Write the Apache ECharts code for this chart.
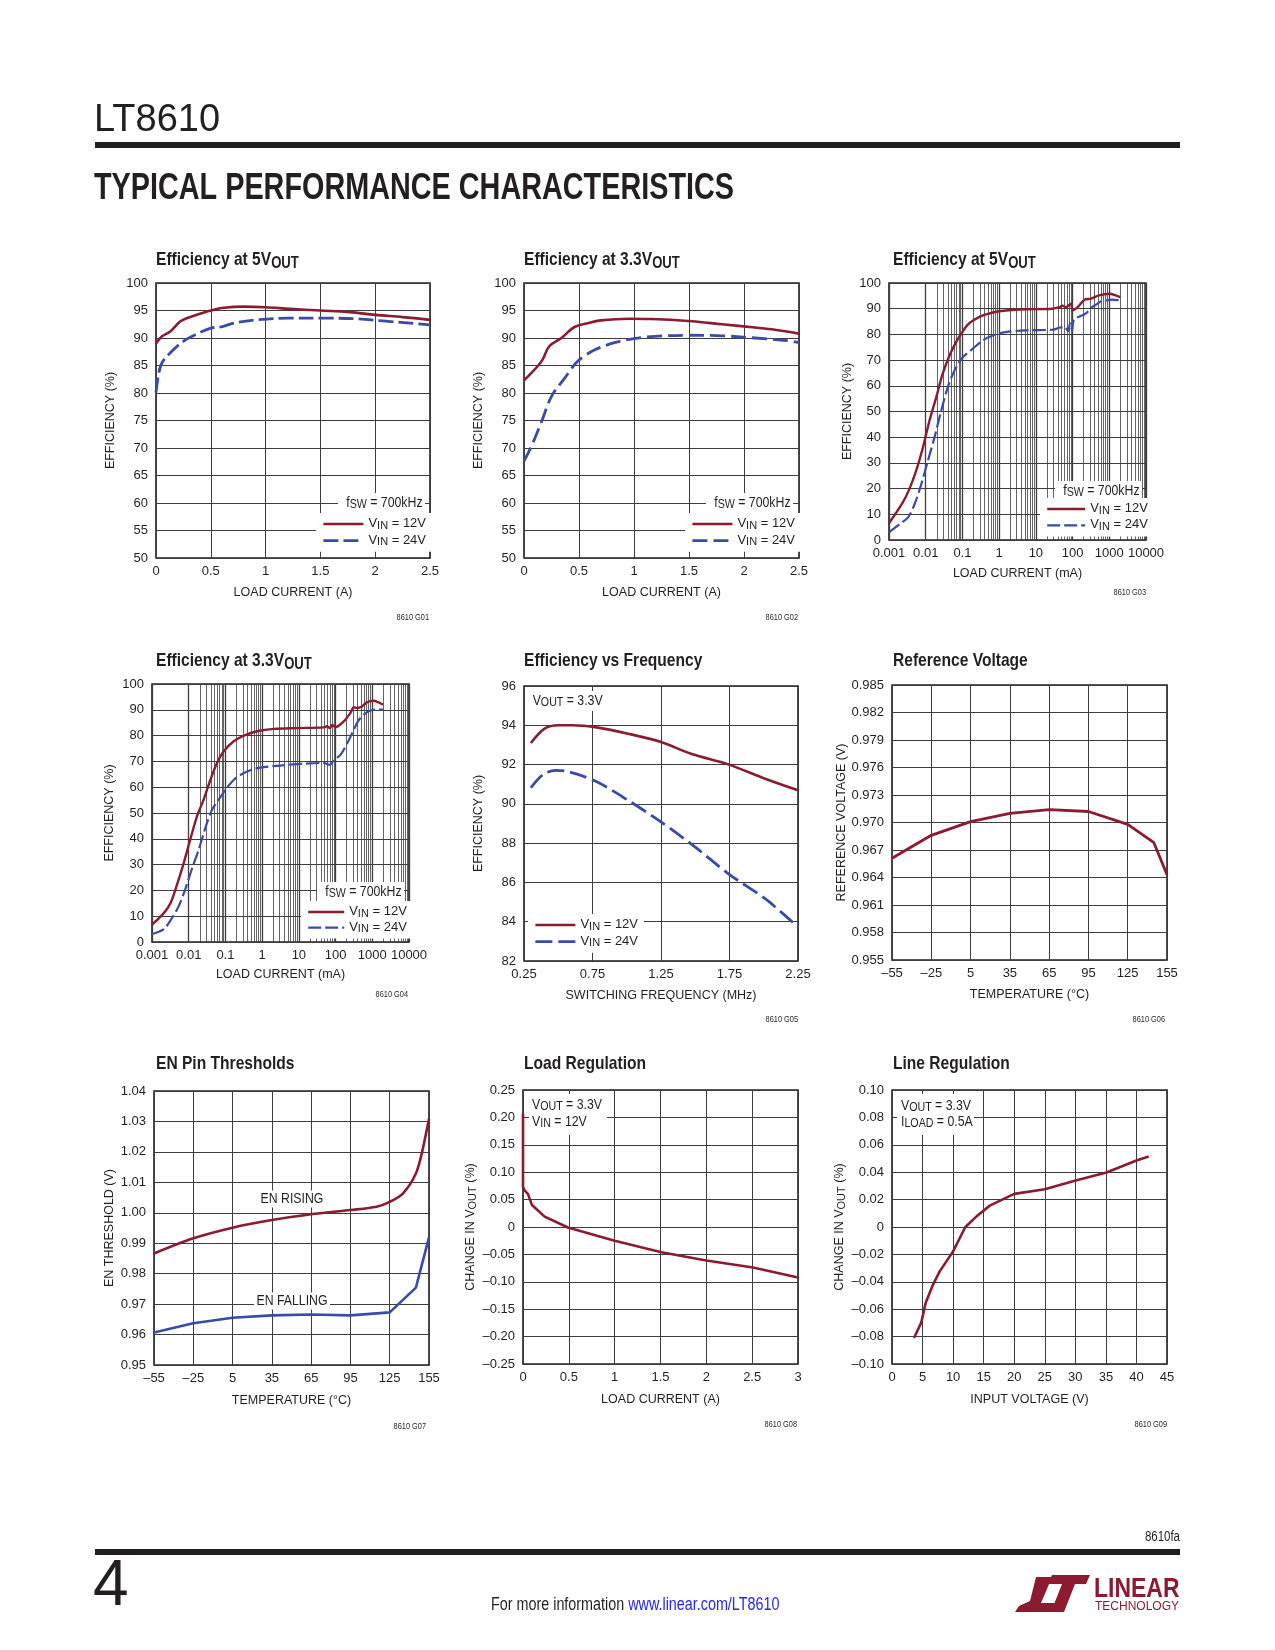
<!DOCTYPE html>
<html><head><meta charset="utf-8">
<script src="https://cdn.jsdelivr.net/npm/echarts@6/dist/echarts.min.js"></script>
<style>html,body{margin:0;padding:0;background:#fff}#c{width:1275px;height:1650px}</style>
</head><body><div id="c"></div>
<script>
// ---------------- DATA ----------------
// G01 Efficiency at 5Vout (linear load, A)
const p1_vin12_load = [0, 0.055, 0.13, 0.22, 0.28, 0.4, 0.5, 0.62, 0.8, 1.0, 1.22, 1.5, 1.77, 2.0, 2.25, 2.5];
const p1_vin12_eff  = [89.0, 90.3, 91.2, 93.0, 93.6, 94.4, 95.0, 95.5, 95.7, 95.6, 95.3, 95.0, 94.7, 94.2, 93.8, 93.3];
const p1_vin24_load = [0, 0.025, 0.055, 0.13, 0.25, 0.37, 0.5, 0.59, 0.71, 0.92, 1.22, 1.53, 1.83, 2.07, 2.32, 2.5];
const p1_vin24_eff  = [80.1, 83.6, 85.5, 87.3, 89.4, 90.7, 91.8, 92.0, 92.7, 93.3, 93.6, 93.6, 93.5, 93.1, 92.7, 92.4];
// G02 Efficiency at 3.3Vout
const p2_vin12_load = [0, 0.05, 0.13, 0.17, 0.23, 0.34, 0.46, 0.58, 0.7, 0.95, 1.16, 1.49, 1.8, 2.1, 2.28, 2.5];
const p2_vin12_eff  = [82.3, 83.3, 85.0, 86.1, 88.5, 90.0, 92.0, 92.7, 93.2, 93.5, 93.45, 93.1, 92.5, 91.9, 91.5, 90.8];
const p2_vin24_load = [0, 0.067, 0.16, 0.25, 0.37, 0.49, 0.64, 0.83, 1.0, 1.19, 1.49, 1.8, 2.1, 2.4, 2.5];
const p2_vin24_eff  = [67.6, 70.3, 74.8, 79.4, 82.7, 85.8, 87.8, 89.2, 89.9, 90.3, 90.5, 90.4, 90.0, 89.5, 89.2];
// G03 Efficiency at 5Vout (log load, mA)
const p3_vin12_load = [0.001, 0.0024, 0.0036, 0.0055, 0.0084, 0.0127, 0.0194, 0.029, 0.0445, 0.067, 0.1, 0.14, 0.19, 0.3, 0.44, 1.0, 3.5, 28, 44, 53, 66, 91, 100, 138, 212, 315, 520, 1000, 1500, 2000];
const p3_vin12_eff  = [6.5, 14.7, 19.9, 27, 36, 46.5, 55.6, 64.7, 71.8, 77.0, 81.0, 83.8, 85.3, 86.9, 87.8, 89.0, 89.7, 90.0, 90.6, 91.2, 90.6, 91.9, 89.4, 90.6, 93.5, 93.9, 95.2, 95.8, 95.2, 94.5];
const p3_vin24_load = [0.001, 0.00195, 0.0033, 0.005, 0.0076, 0.0115, 0.0174, 0.0265, 0.04, 0.061, 0.1, 0.19, 0.36, 0.67, 1.5, 5.5, 28, 44, 60, 76, 85, 97, 110, 226, 340, 470, 590, 800, 1200, 2000];
const p3_vin24_eff  = [3.0, 6.2, 8.8, 14, 21.8, 30.9, 40, 50.4, 59.5, 66, 70.9, 74.4, 77.7, 79.6, 80.9, 81.6, 81.8, 82.6, 82.9, 81.3, 84.4, 81.6, 85.7, 88.1, 90.6, 91.9, 92.9, 93.2, 93.5, 93.2];
// G04 Efficiency at 3.3Vout (log load, mA)
const p4_vin12_load = [0.001, 0.0021, 0.0032, 0.0048, 0.0073, 0.011, 0.0168, 0.0255, 0.039, 0.059, 0.09, 0.168, 0.32, 0.73, 2.1, 8.9, 47, 58, 70, 81, 100, 167, 254, 313, 385, 525, 715, 1080, 1480, 1950];
const p4_vin12_eff  = [6.7, 11.2, 15.1, 22.2, 30.6, 39.7, 48.7, 55.2, 62.9, 69.4, 73.9, 77.8, 80.0, 81.7, 82.6, 82.9, 83.2, 83.6, 82.9, 84.1, 83.3, 85.5, 88.8, 91.0, 90.7, 91.3, 92.9, 93.5, 92.9, 92.0];
const p4_vin24_load = [0.001, 0.0021, 0.0035, 0.0053, 0.008, 0.012, 0.0187, 0.0284, 0.0433, 0.066, 0.1, 0.17, 0.32, 0.73, 2.5, 13, 47, 70, 90, 138, 233, 313, 470, 790, 1200, 1950];
const p4_vin24_eff  = [3.1, 5.0, 9.3, 13.8, 20.3, 28.0, 35.8, 44.2, 51.3, 55.2, 59.0, 62.9, 65.5, 67.4, 68.3, 69.1, 69.4, 68.7, 70.4, 72.6, 78.4, 82.3, 86.8, 89.4, 90.1, 90.1];
// G05 Efficiency vs frequency (MHz)
const p5_vin12_freq = [0.30, 0.40, 0.50, 0.60, 0.79, 1.01, 1.25, 1.47, 1.74, 2.01, 2.25];
const p5_vin12_eff  = [93.1, 93.83, 94.0, 94.0, 93.88, 93.57, 93.15, 92.55, 92.01, 91.28, 90.69];
const p5_vin24_freq = [0.30, 0.39, 0.48, 0.55, 0.77, 1.01, 1.25, 1.50, 1.74, 2.01, 2.25];
const p5_vin24_eff  = [90.82, 91.5, 91.7, 91.67, 91.16, 90.18, 89.08, 87.8, 86.45, 85.17, 83.73];
// G06 Reference voltage vs temperature
const p6_temp = [-55, -25, 5, 35, 65, 95, 125, 145, 155];
const p6_vref = [0.9661, 0.9686, 0.9701, 0.9710, 0.9714, 0.9712, 0.9698, 0.9678, 0.9643];
// G07 EN pin thresholds
const p7_rise_temp = [-55, -25, 5, 35, 65, 95, 115, 125, 135, 145, 150, 155];
const p7_rise_v    = [0.9866, 0.9916, 0.9951, 0.9976, 0.9995, 1.0009, 1.0020, 1.0036, 1.0063, 1.0129, 1.0205, 1.0309];
const p7_fall_temp = [-55, -25, 5, 35, 65, 95, 125, 145, 155];
const p7_fall_v    = [0.9607, 0.9637, 0.9655, 0.9663, 0.9666, 0.9663, 0.9673, 0.9754, 0.9919];
// G08 Load regulation
const p8_load = [0, 0, 0.011, 0.055, 0.098, 0.236, 0.49, 1.0, 1.51, 2.0, 2.51, 3.0];
const p8_dv   = [0.207, 0.074, 0.068, 0.060, 0.040, 0.019, -0.001, -0.025, -0.046, -0.061, -0.074, -0.092];
// G09 Line regulation
const p9_vin = [3.6, 4.8, 5.5, 6.7, 7.8, 10.0, 12.0, 13.8, 16.0, 18.2, 20.0, 25.0, 29.9, 35.1, 40.0, 42.0];
const p9_dv  = [-0.081, -0.0696, -0.0555, -0.0422, -0.0324, -0.0178, 0.0, 0.0076, 0.0156, 0.0203, 0.0242, 0.0276, 0.0337, 0.0398, 0.0485, 0.0514];
// log-axis minor grid multipliers
const logMinorMult = [2, 3, 4, 5, 6, 7, 8, 9];
const logDecades = [0.001, 0.01, 0.1, 1, 10, 100, 1000];

// ---------------- STYLE ----------------
const RED = '#8C1B30', BLUE = '#3A4AAA', INK = '#231f20', GRIDC = '#3d3d3d';
const SANS = '"Liberation Sans",Arial,Helvetica,sans-serif';
const NX = 0.82; // horizontal compression for graphic text (condensed look)

const AX_RICH = {
  a: {fontFamily: SANS, fontSize: 12.5, color: INK, lineHeight: 15, verticalAlign: 'top'},
  s: {fontFamily: SANS, fontSize: 11, color: INK, lineHeight: 7, verticalAlign: 'bottom'}
};
const LEG_RICH = {
  a: {fontFamily: SANS, fontSize: 13, color: INK, lineHeight: 14, verticalAlign: 'top'},
  s: {fontFamily: SANS, fontSize: 11, color: INK, lineHeight: 6, verticalAlign: 'bottom'}
};
const G_RICH = {
  a: {fontFamily: SANS, fontSize: 15, fill: INK, lineHeight: 16, verticalAlign: 'top'},
  s: {fontFamily: SANS, fontSize: 13, fill: INK, lineHeight: 8, verticalAlign: 'bottom'}
};
const T_RICH = {
  t: {fontFamily: SANS, fontSize: 19, fontWeight: 'bold', fill: INK, lineHeight: 22, verticalAlign: 'top'},
  s: {fontFamily: SANS, fontSize: 16, fontWeight: 'bold', fill: INK, lineHeight: 13, verticalAlign: 'bottom'}
};

const neg = v => (v < 0 ? '\u2013' : '');
const fmtTemp = v => neg(v) + Math.abs(v);
const fmt2 = v => Math.abs(v) < 1e-9 ? '0' : neg(v) + Math.abs(v).toFixed(2);
const fmt3 = v => v.toFixed(3);
const fmtLog = v => String(+Number(v).toPrecision(4));

const panels = [
  {grid:[156,283,274,275], x:{type:'value',min:0,max:2.5,interval:0.5}, y:{min:50,max:100,interval:5},
   xName:'LOAD CURRENT (A)', xGap:28, yName:'EFFICIENCY (%)', yGap:39,
   title:'{t|Efficiency at 5V}{s|OUT}', tpos:[156,261], code:'8610 G01', cpos:[429,618]},
  {grid:[524,283,275,275], x:{type:'value',min:0,max:2.5,interval:0.5}, y:{min:50,max:100,interval:5},
   xName:'LOAD CURRENT (A)', xGap:28, yName:'EFFICIENCY (%)', yGap:39,
   title:'{t|Efficiency at 3.3V}{s|OUT}', tpos:[524,261], code:'8610 G02', cpos:[798,618]},
  {grid:[889,283,257,257], x:{type:'log',min:0.001,max:10000,logBase:10}, y:{min:0,max:100,interval:10}, log:true,
   xName:'LOAD CURRENT (mA)', xGap:27, yName:'EFFICIENCY (%)', yGap:35,
   title:'{t|Efficiency at 5V}{s|OUT}', tpos:[893,261], code:'8610 G03', cpos:[1146,593]},
  {grid:[152,684,257,258], x:{type:'log',min:0.001,max:10000,logBase:10}, y:{min:0,max:100,interval:10}, log:true,
   xName:'LOAD CURRENT (mA)', xGap:26, yName:'EFFICIENCY (%)', yGap:36,
   title:'{t|Efficiency at 3.3V}{s|OUT}', tpos:[156,662], code:'8610 G04', cpos:[408,995]},
  {grid:[524,686,274,275], x:{type:'value',min:0.25,max:2.25,interval:0.5}, y:{min:82,max:96,interval:2},
   xName:'SWITCHING FREQUENCY (MHz)', xGap:28, yName:'EFFICIENCY (%)', yGap:39, xfmt:v=>v.toFixed(2),
   title:'{t|Efficiency vs Frequency}', tpos:[524,662], code:'8610 G05', cpos:[798,1020]},
  {grid:[892,685,275,275], x:{type:'value',min:-55,max:155,interval:30}, y:{min:0.955,max:0.985,interval:0.003},
   xName:'TEMPERATURE (°C)', xGap:28, yName:'REFERENCE VOLTAGE (V)', yGap:43, xfmt:fmtTemp, yfmt:fmt3,
   title:'{t|Reference Voltage}', tpos:[893,662], code:'8610 G06', cpos:[1165,1020]},
  {grid:[154,1091,275,274], x:{type:'value',min:-55,max:155,interval:30}, y:{min:0.95,max:1.04,interval:0.01},
   xName:'TEMPERATURE (°C)', xGap:29, yName:'EN THRESHOLD (V)', yGap:38, xfmt:fmtTemp, yfmt:v=>v.toFixed(2),
   title:'{t|EN Pin Thresholds}', tpos:[156,1065], code:'8610 G07', cpos:[426,1427]},
  {grid:[523,1090,275,274], x:{type:'value',min:0,max:3,interval:0.5}, y:{min:-0.25,max:0.25,interval:0.05},
   xName:'LOAD CURRENT (A)', xGap:29, yName:'{a|CHANGE IN V}{s|OUT}{a| (%)}', yGap:42, yfmt:fmt2,
   title:'{t|Load Regulation}', tpos:[524,1065], code:'8610 G08', cpos:[797,1425]},
  {grid:[892,1090,275,274], x:{type:'value',min:0,max:45,interval:5}, y:{min:-0.1,max:0.1,interval:0.02},
   xName:'INPUT VOLTAGE (V)', xGap:29, yName:'{a|CHANGE IN V}{s|OUT}{a| (%)}', yGap:43, yfmt:fmt2,
   title:'{t|Line Regulation}', tpos:[893,1065], code:'8610 G09', cpos:[1167,1425]}
];

const grids = [], xAxes = [], yAxes = [], series = [], graphics = [], legends = [];

panels.forEach((p, i) => {
  grids.push({left:p.grid[0], top:p.grid[1], width:p.grid[2], height:p.grid[3], show:true,
    borderColor:INK, borderWidth:1.6, backgroundColor:'transparent', containLabel:false});
  const common = {
    gridIndex:i, axisLine:{show:false}, axisTick:{show:false},
    splitLine:{show:true, lineStyle:{color:GRIDC, width:p.log ? 1.3 : 1}},
    axisLabel:{color:INK, fontFamily:SANS, fontSize:13, showMinLabel:true, showMaxLabel:true},
    nameLocation:'middle',
    nameTextStyle:{color:INK, fontFamily:SANS, fontSize:12.5, rich:AX_RICH}
  };
  xAxes.push(Object.assign({}, common, p.x, {
    name:p.xName, nameGap:p.xGap,
    axisLabel:Object.assign({}, common.axisLabel, {margin:7, formatter: p.log ? fmtLog : (p.xfmt || null)})
  }));
  yAxes.push(Object.assign({}, common, {type:'value'}, p.y, {
    name:p.yName, nameGap:p.yGap, nameRotate:90,
    splitLine:{show:true, lineStyle:{color:GRIDC, width:1}},
    axisLabel:Object.assign({}, common.axisLabel, {margin:8, formatter: p.yfmt || null})
  }));
  if (p.log) {
    const minor = [];
    logDecades.forEach(d => logMinorMult.forEach(m => minor.push({xAxis: +(m * d).toPrecision(3)})));
    series.push({type:'line', xAxisIndex:i, yAxisIndex:i, data:[], silent:true, z:1,
      markLine:{silent:true, z:1, symbol:['none','none'], animation:false, label:{show:false},
        lineStyle:{color:GRIDC, width:0.8, type:'solid'}, emphasis:{disabled:true}, data:minor}});
  }
  graphics.push({type:'text', x:p.tpos[0], y:p.tpos[1], scaleX:NX, silent:true,
    style:{text:p.title, rich:T_RICH, fill:INK, verticalAlign:'middle', align:'left'}});
  graphics.push({type:'text', x:p.cpos[0], y:p.cpos[1], scaleX:NX, silent:true,
    style:{text:p.code, fontFamily:SANS, fontSize:9, fill:INK, verticalAlign:'middle', align:'right'}});
});

function mkLine(name, gi, xs, ys, color, width, dash, smooth) {
  return {name, type:'line', xAxisIndex:gi, yAxisIndex:gi, symbol:'none', silent:true,
    smooth: smooth, data: xs.map((x, k) => [x, ys[k]]),
    lineStyle:{color, width, type: dash || 'solid', cap:'butt', join:'round'}, itemStyle:{color},
    z: color === RED ? 4 : 3, animation:false};
}
series.push(mkLine('p1_12', 0, p1_vin12_load, p1_vin12_eff, RED, 2.6, null, 0.35));
series.push(mkLine('p1_24', 0, p1_vin24_load, p1_vin24_eff, BLUE, 2.8, [15, 5], 0.35));
series.push(mkLine('p2_12', 1, p2_vin12_load, p2_vin12_eff, RED, 2.6, null, 0.35));
series.push(mkLine('p2_24', 1, p2_vin24_load, p2_vin24_eff, BLUE, 2.8, [15, 6], 0.35));
series.push(mkLine('p3_12', 2, p3_vin12_load, p3_vin12_eff, RED, 2.4, null, 0.3));
series.push(mkLine('p3_24', 2, p3_vin24_load, p3_vin24_eff, BLUE, 2.2, [13, 4], 0.3));
series.push(mkLine('p4_12', 3, p4_vin12_load, p4_vin12_eff, RED, 2.4, null, 0.3));
series.push(mkLine('p4_24', 3, p4_vin24_load, p4_vin24_eff, BLUE, 2.2, [13, 4], 0.3));
series.push(mkLine('p5_12', 4, p5_vin12_freq, p5_vin12_eff, RED, 2.6, null, 0.3));
series.push(mkLine('p5_24', 4, p5_vin24_freq, p5_vin24_eff, BLUE, 2.8, [17, 6], 0.3));
series.push(mkLine('p6_vref', 5, p6_temp, p6_vref, RED, 2.8, null, false));
series.push(mkLine('p7_rise', 6, p7_rise_temp, p7_rise_v, RED, 2.6, null, 0.3));
series.push(mkLine('p7_fall', 6, p7_fall_temp, p7_fall_v, BLUE, 2.6, null, false));
series.push(mkLine('p8_dv', 7, p8_load, p8_dv, RED, 2.6, null, false));
series.push(mkLine('p9_dv', 8, p9_vin, p9_dv, RED, 2.6, null, false));

const LEG_TEXT = {
  p1_12:'{a|V}{s|IN}{a| = 12V}', p1_24:'{a|V}{s|IN}{a| = 24V}',
  p2_12:'{a|V}{s|IN}{a| = 12V}', p2_24:'{a|V}{s|IN}{a| = 24V}',
  p3_12:'{a|V}{s|IN}{a| = 12V}', p3_24:'{a|V}{s|IN}{a| = 24V}',
  p4_12:'{a|V}{s|IN}{a| = 12V}', p4_24:'{a|V}{s|IN}{a| = 24V}',
  p5_12:'{a|V}{s|IN}{a| = 12V}', p5_24:'{a|V}{s|IN}{a| = 24V}'
};
function mkLegend(names, left, top, iw, gap) {
  return {data:names, left, top, orient:'vertical', itemWidth:iw, itemHeight:14, itemGap:gap,
    padding:[4,6,4,6], backgroundColor:'#fff', selectedMode:false,
    itemStyle:{opacity:0, borderWidth:0}, lineStyle:{width:'inherit'},
    formatter: n => LEG_TEXT[n], textStyle:{color:INK, fontFamily:SANS, fontSize:13, rich:LEG_RICH}};
}
legends.push(mkLegend(['p1_12','p1_24'], 316, 513, 40, 2.7));
legends.push(mkLegend(['p2_12','p2_24'], 685, 513, 40, 2.7));
legends.push(mkLegend(['p3_12','p3_24'], 1040, 498, 38, 2.4));
legends.push(mkLegend(['p4_12','p4_24'], 301, 901, 36, 1.6));
legends.push(mkLegend(['p5_12','p5_24'], 528, 914, 40, 2.7));

function gRich(x, y, text, align, pad) {
  return {type:'text', x, y, scaleX:NX, silent:true, z:20,
    style:{text, rich:G_RICH, fill:INK, align: align || 'left', verticalAlign:'middle',
      backgroundColor:'#fff', padding: pad || [2,4,2,4]}};
}
// fSW annotations
const FSW = '{a|f}{s|SW}{a| = 700kHz}';
graphics.push(gRich(425, 503, FSW, 'right', [2,3,2,10]));
graphics.push(gRich(793, 503, FSW, 'right', [2,3,2,10]));
graphics.push(gRich(1142, 491, FSW, 'right', [2,3,2,10]));
graphics.push(gRich(404, 892, FSW, 'right', [2,3,2,10]));
// Vout label on G05
graphics.push(gRich(531, 701, '{a|V}{s|OUT}{a| = 3.3V}', 'left', [2,2,2,2]));
// EN labels
graphics.push({type:'text', x:292, y:1199, scaleX:NX, silent:true, z:20, style:{text:'EN RISING', fontFamily:SANS, fontSize:15, fill:INK,
  align:'center', verticalAlign:'middle', backgroundColor:'#fff', padding:[1,3,1,3]}});
graphics.push({type:'text', x:292, y:1301, scaleX:NX, silent:true, z:20, style:{text:'EN FALLING', fontFamily:SANS, fontSize:15, fill:INK,
  align:'center', verticalAlign:'middle', backgroundColor:'#fff', padding:[1,3,1,3]}});
// G08 / G09 condition boxes
graphics.push({type:'rect', silent:true, z:19, shape:{x:529, y:1094, width:78, height:41}, style:{fill:'#fff'}});
graphics.push(gRich(532, 1105, '{a|V}{s|OUT}{a| = 3.3V}', 'left', [0,0,0,0]));
graphics.push(gRich(532, 1122, '{a|V}{s|IN}{a| = 12V}', 'left', [0,0,0,0]));
graphics.push({type:'rect', silent:true, z:19, shape:{x:897, y:1094, width:77, height:41}, style:{fill:'#fff'}});
graphics.push(gRich(901, 1106, '{a|V}{s|OUT}{a| = 3.3V}', 'left', [0,0,0,0]));
graphics.push(gRich(901, 1122, '{a|I}{s|LOAD}{a| = 0.5A}', 'left', [0,0,0,0]));

// Page header / footer
graphics.push({type:'text', x:94, y:121, silent:true, style:{text:'LT8610', fontFamily:SANS, fontSize:38, fontWeight:'lighter', fill:INK, verticalAlign:'middle'}});
graphics.push({type:'rect', silent:true, shape:{x:95, y:142, width:1085, height:6}, style:{fill:INK}});
graphics.push({type:'text', x:94, y:189, scaleX:0.8, silent:true, style:{text:'TYPICAL PERFORMANCE CHARACTERISTICS', fontFamily:SANS, fontSize:36, fontWeight:'bold', fill:INK, verticalAlign:'middle'}});
graphics.push({type:'text', x:1180, y:1537, scaleX:NX, silent:true, style:{text:'8610fa', fontFamily:SANS, fontSize:14, fill:INK, align:'right', verticalAlign:'middle'}});
graphics.push({type:'rect', silent:true, shape:{x:95, y:1549, width:1085, height:6}, style:{fill:INK}});
graphics.push({type:'text', x:93, y:1587, silent:true, style:{text:'4', fontFamily:SANS, fontSize:64, fontWeight:'lighter', fill:INK, verticalAlign:'middle'}});
graphics.push({type:'text', x:491, y:1605, scaleX:NX, silent:true, style:{text:'{f|For more information }{l|www.linear.com/LT8610}', verticalAlign:'middle',
  rich:{f:{fontFamily:SANS, fontSize:17.5, fill:INK}, l:{fontFamily:SANS, fontSize:17.5, fill:'#2626F0'}}}});
// logo
graphics.push({type:'polygon', silent:true, shape:{points:[[1036,1577],[1052,1577],[1041,1603],[1064,1603],[1060,1612],[1015,1612],[1019,1606],[1030,1601]]}, style:{fill:RED}});
graphics.push({type:'polygon', silent:true, shape:{points:[[1052,1575],[1090,1575],[1086,1584],[1075,1584],[1064,1612],[1051,1612],[1062,1584],[1048,1584]]}, style:{fill:RED}});
graphics.push({type:'text', x:1094, y:1589, scaleX:NX, silent:true, style:{text:'LINEAR', fontFamily:SANS, fontSize:28, fontWeight:'bold', fill:RED, verticalAlign:'middle'}});
graphics.push({type:'text', x:1095, y:1607, silent:true, style:{text:'TECHNOLOGY', fontFamily:SANS, fontSize:12, fill:RED, verticalAlign:'middle'}});

const chart = echarts.init(document.getElementById('c'), null, {renderer:'canvas', width:1275, height:1650});
chart.setOption({
  animation:false, backgroundColor:'#fff',
  grid:grids, xAxis:xAxes, yAxis:yAxes, series:series, legend:legends, graphic:graphics
});
</script></body></html>
